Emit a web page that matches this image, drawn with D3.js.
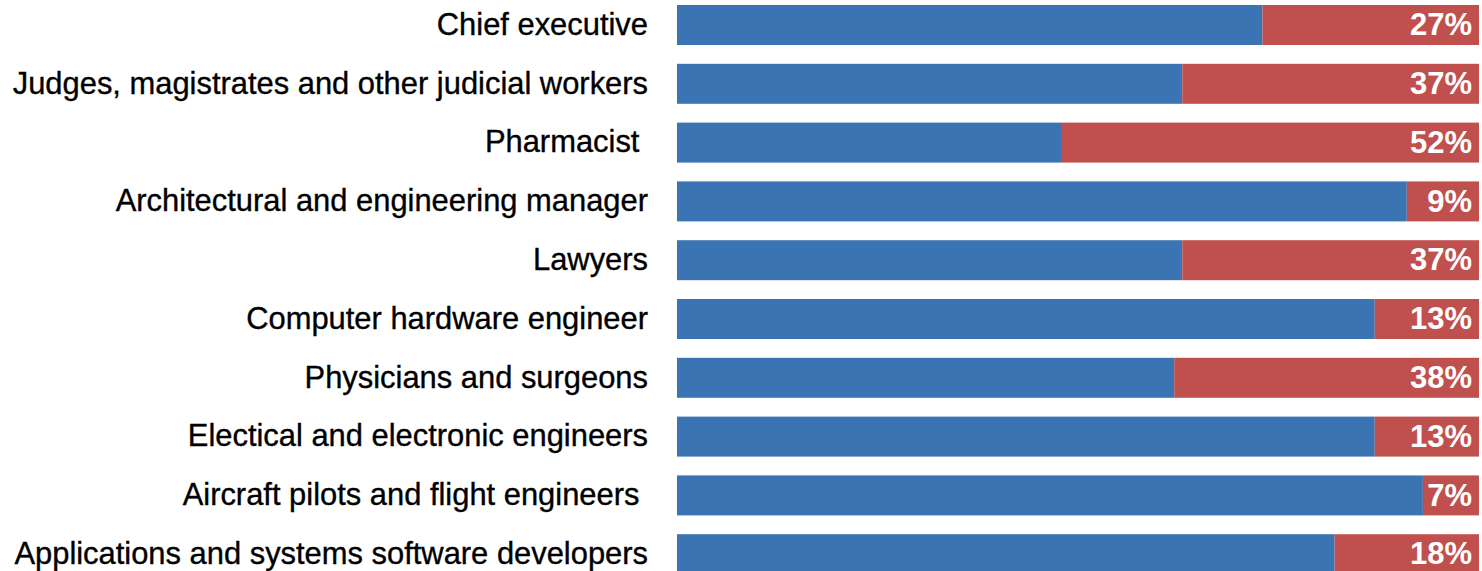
<!DOCTYPE html>
<html>
<head>
<meta charset="utf-8">
<script src="https://cdn.jsdelivr.net/npm/d3@7"></script>
<style>
  body { margin: 0; background: #fff; }
  svg { display: block; }
  .label { font-family: 'Liberation Sans', Arial, sans-serif; font-size: 30.9px; fill: #000; stroke: #000; stroke-width: 0.35px; }
  .pct { font-family: 'Liberation Sans', Arial, sans-serif; font-size: 31px; font-weight: bold; fill: #fff; }
</style>
</head>
<body>
<svg width="1482" height="571"></svg>
<script>
// occupations, top to bottom
const occupations = [
  'Chief executive',
  'Judges, magistrates and other judicial workers',
  'Pharmacist ',
  'Architectural and engineering manager',
  'Lawyers',
  'Computer hardware engineer',
  'Physicians and surgeons',
  'Electical and electronic engineers',
  'Aircraft pilots and flight engineers ',
  'Applications and systems software developers'
];
// share of women, percent
const womenPct = [27, 37, 52, 9, 37, 13, 38, 13, 7, 18];

const rows = occupations.map((name, i) => ({ name: name, women: womenPct[i], men: 100 - womenPct[i] }));

var svgElement = d3.select('svg');

var xScale = d3.scaleLinear().domain([0, 100]).range([677, 1479]);

var yScale = d3.scaleBand()
  .domain(occupations)
  .range([-4.4, 583.6])
  .paddingInner(0.32)
  .paddingOuter(0.16);

var rowGroup = svgElement.selectAll('g.row')
  .data(rows)
  .enter()
  .append('g')
  .attr('class', 'row')
  .attr('transform', function (d) {
    return 'translate(0,' + yScale(d.name) + ')';
  });

// blue part (men)
rowGroup.append('rect')
  .attr('x', xScale(0))
  .attr('y', 0)
  .attr('width', function (d) { return xScale(d.men) - xScale(0); })
  .attr('height', yScale.bandwidth())
  .attr('fill', '#3b74b2');

// red part (women)
rowGroup.append('rect')
  .attr('x', function (d) { return xScale(d.men); })
  .attr('y', 0)
  .attr('width', function (d) { return xScale(100) - xScale(d.men); })
  .attr('height', yScale.bandwidth())
  .attr('fill', '#c0504d');

rowGroup.append('text')
  .attr('class', 'label')
  .attr('x', 648)
  .attr('y', yScale.bandwidth() / 2)
  .attr('dy', '0.32em')
  .attr('text-anchor', 'end')
  .style('white-space', 'pre')
  .text(function (d) { return d.name; });

rowGroup.append('text')
  .attr('class', 'pct')
  .attr('x', xScale(100) - 7)
  .attr('y', yScale.bandwidth() / 2)
  .attr('dy', '0.33em')
  .attr('text-anchor', 'end')
  .text(function (d) { return d.women + '%'; });
</script>
</body>
</html>
